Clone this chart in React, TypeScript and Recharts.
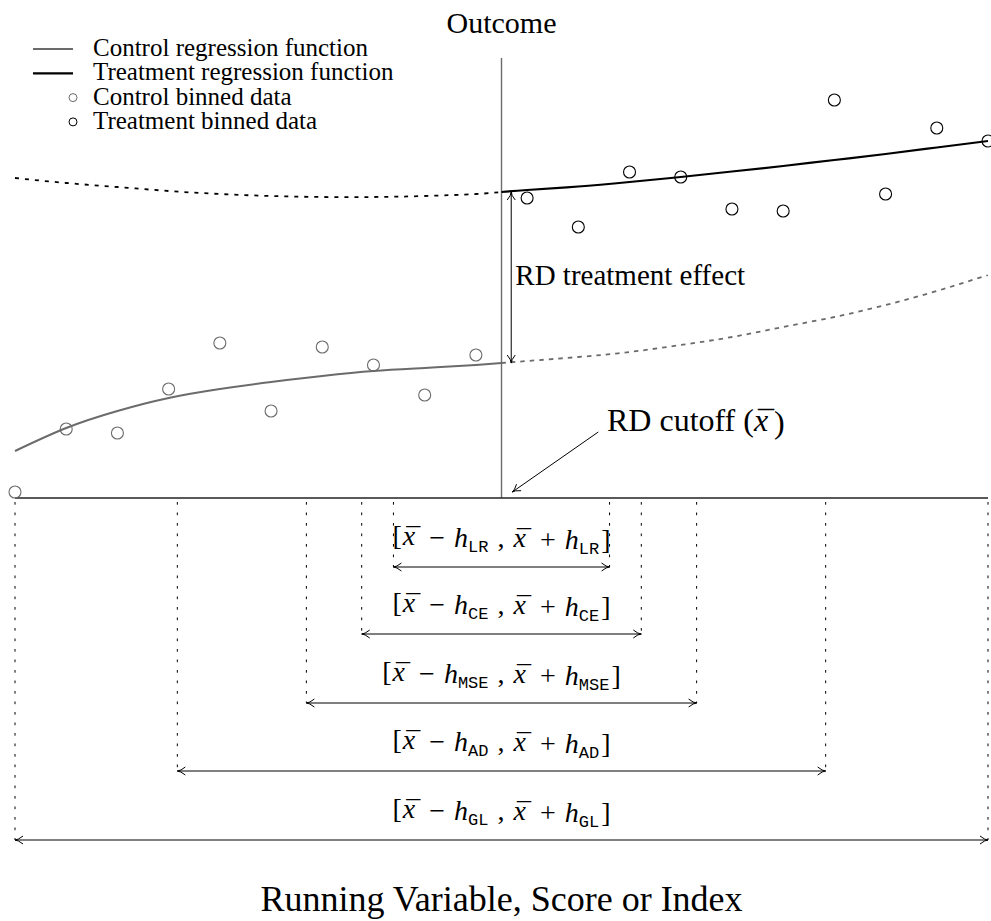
import React from 'react';
import { ComposedChart, Line, Scatter, XAxis, YAxis, ReferenceLine, ReferenceDot } from 'recharts';

const SERIF = '"Liberation Serif", "Times New Roman", serif';
const MONO = '"Liberation Mono", "DejaVu Sans Mono", monospace';
const GRAY = '#6b6b6b';

// running-variable bins (index units), cutoff between bin 9 and bin 10
const cutoff = 9.5;
const controlBinX = [0, 1, 2, 3, 4, 5, 6, 7, 8, 9];
const controlBinned = [0.06, 0.69, 0.65, 1.09, 1.55, 0.87, 1.51, 1.33, 1.03, 1.43];
const treatmentBinX = [10, 11, 12, 13, 14, 15, 16, 17, 18, 19];
const treatmentBinned = [3.0, 2.71, 3.26, 3.21, 2.89, 2.87, 3.98, 3.04, 3.7, 3.57];

// regression functions
const controlFitX = [0, 1, 2, 3, 4, 5, 6, 7, 8, 9, 9.5];
const controlFitY = [0.47, 0.7, 0.87, 1.0, 1.09, 1.16, 1.22, 1.27, 1.3, 1.33, 1.35];
const controlExtX = [9.5, 10, 11, 12, 13, 14, 15, 16, 17, 18, 19];
const controlExtY = [1.35, 1.37, 1.41, 1.46, 1.53, 1.61, 1.71, 1.81, 1.93, 2.07, 2.23];
const treatmentFitX = [9.5, 10, 11, 12, 13, 14, 15, 16, 17, 18, 19];
const treatmentFitY = [3.06, 3.08, 3.115, 3.16, 3.21, 3.265, 3.32, 3.38, 3.44, 3.505, 3.57];
const treatmentExtX = [0, 1, 2, 3, 4, 5, 6, 7, 8, 9, 9.5];
const treatmentExtY = [3.2, 3.15, 3.11, 3.07, 3.04, 3.02, 3.01, 3.01, 3.02, 3.04, 3.06];

// bandwidth intervals around the cutoff
const bandNames = ['LR', 'CE', 'MSE', 'AD', 'GL'];
const bandHalfWidths = [2.11, 2.73, 3.81, 6.33, 9.5];
const bandArrowY = [-0.69, -1.36, -2.05, -2.73, -3.42];
const bandLabelY = [-0.47, -1.14, -1.83, -2.51, -3.2];

const legendItems = [
  { label: 'Control regression function', kind: 'line', color: GRAY },
  { label: 'Treatment regression function', kind: 'line', color: '#000' },
  { label: 'Control binned data', kind: 'dot', color: GRAY },
  { label: 'Treatment binned data', kind: 'dot', color: '#000' },
];

const toPts = (xs: number[], ys: number[]) => xs.map((x, i) => ({ x, y: ys[i] }));
const controlPts = toPts(controlBinX, controlBinned);
const treatmentPts = toPts(treatmentBinX, treatmentBinned);

function headPath(x1: number, y1: number, x2: number, y2: number, len = 8, half = 4) {
  const dx = x2 - x1;
  const dy = y2 - y1;
  const L = Math.hypot(dx, dy) || 1;
  const ux = dx / L;
  const uy = dy / L;
  const bx = x2 - ux * len;
  const by = y2 - uy * len;
  return `M${bx - uy * half},${by + ux * half} Q${x2 - ux * 3},${y2 - uy * 3} ${x2},${y2} Q${x2 - ux * 3},${y2 - uy * 3} ${bx + uy * half},${by - ux * half}`;
}

const makeArrow = (both: boolean, color = '#000') => (p: any) => {
  const { x1, y1, x2, y2 } = p;
  return (
    <g>
      <line x1={x1} y1={y1} x2={x2} y2={y2} stroke={color} strokeWidth={1} />
      <path d={headPath(x1, y1, x2, y2)} fill="none" stroke={color} strokeWidth={1} />
      {both && <path d={headPath(x2, y2, x1, y1)} fill="none" stroke={color} strokeWidth={1} />}
    </g>
  );
};

// italic x with a macron (U+00AF) placed over it
const xBar = (fs: number, dxBefore = 0) => {
  const xw = 0.444 * fs;
  const mw = 0.333 * fs;
  const start = (xw - mw) / 2 + 0.07 * fs;
  const drop = 0.07 * fs;
  return [
    <tspan key="x" dx={dxBefore} fontStyle="italic">x</tspan>,
    <tspan key="m" dx={-(xw - start)} dy={drop}>{'\u00AF'}</tspan>,
    <tspan key="r" dx={xw - start - mw} dy={-drop}>{''}</tspan>,
  ];
};

const BAND_FS = 28;
const SUB_FS = 17;
const OP_GAP = 9;

const bandLabel = (name: string) => (p: any) => {
  const { cx, cy } = p;
  const sub = (k: string) => [
    <tspan key={k + 'h'} dx={OP_GAP} fontStyle="italic">h</tspan>,
    <tspan key={k + 's'} fontFamily={MONO} fontSize={SUB_FS} dy={5}>{name}</tspan>,
  ];
  return (
    <text x={cx} y={cy} textAnchor="middle" fontFamily={SERIF} fontSize={BAND_FS} fill="#000">
      <tspan>[</tspan>
      {xBar(BAND_FS, 1)}
      <tspan dx={OP_GAP}>{'\u2212'}</tspan>
      {sub('a')}
      <tspan dx={9} dy={-5}>,</tspan>
      {xBar(BAND_FS, 9)}
      <tspan dx={OP_GAP}>+</tspan>
      {sub('b')}
      <tspan dx={2} dy={-5}>]</tspan>
    </text>
  );
};

const textShape = (content: React.ReactNode, size: number, anchor: string) => (p: any) => (
  <text x={p.cx} y={p.cy} textAnchor={anchor} fontFamily={SERIF} fontSize={size} fill="#000">
    {content}
  </text>
);

const circleShape = (color: string) => (p: any) => (
  <circle cx={p.cx} cy={p.cy} r={6} fill="none" stroke={color} strokeWidth={1.1} />
);

const LegendBox = () => (
  <svg width={420} height={140} style={{ position: 'absolute', left: 0, top: 0 }}>
    {legendItems.map((it, i) => {
      const base = 56 + i * 24.3;
      const mid = base - 7;
      return (
        <g key={it.label}>
          {it.kind === 'line' ? (
            <line x1={33} x2={73} y1={mid} y2={mid} stroke={it.color} strokeWidth={i === 1 ? 2.2 : 1.8} />
          ) : (
            <circle cx={73} cy={mid} r={4} fill="none" stroke={it.color} strokeWidth={1} />
          )}
          <text x={93} y={base} fontFamily={SERIF} fontSize={25} fill="#000">
            {it.label}
          </text>
        </g>
      );
    })}
  </svg>
);

export default function App() {
  return (
    <div style={{ position: 'absolute', left: 0, top: 0, width: 991, height: 921, background: '#fff' }}>
      <ComposedChart width={991} height={921} margin={{ top: 58, right: 3, bottom: 73, left: 15 }}>
        <XAxis type="number" dataKey="x" domain={[0, 19]} hide />
        <YAxis type="number" dataKey="y" domain={[-3.5, 4.4]} hide />

        {/* axes */}
        <ReferenceLine segment={[{ x: cutoff, y: 0 }, { x: cutoff, y: 4.4 }]} stroke="#6b6b6b" strokeWidth={1.4} />
        <ReferenceLine segment={[{ x: 0, y: 0 }, { x: 19, y: 0 }]} stroke="#222" strokeWidth={1.4} />

        {/* bandwidth intervals */}
        {bandNames.map((n, i) => {
          const lo = cutoff - bandHalfWidths[i];
          const hi = cutoff + bandHalfWidths[i];
          return (
            <React.Fragment key={n}>
              <ReferenceLine segment={[{ x: lo, y: -0.04 }, { x: lo, y: bandArrowY[i] }]} stroke="#000" strokeWidth={1} strokeDasharray="2.7 7.8" />
              <ReferenceLine segment={[{ x: hi, y: -0.04 }, { x: hi, y: bandArrowY[i] }]} stroke="#000" strokeWidth={1} strokeDasharray="2.7 7.8" />
              <ReferenceLine segment={[{ x: lo, y: bandArrowY[i] }, { x: hi, y: bandArrowY[i] }]} shape={makeArrow(true)} />
              <ReferenceDot x={cutoff} y={bandLabelY[i]} r={0} shape={bandLabel(n)} />
            </React.Fragment>
          );
        })}

        {/* regression functions */}
        <Line data={toPts(treatmentExtX, treatmentExtY)} dataKey="y" type="natural" stroke="#000" strokeWidth={1.8} strokeDasharray="4 6" dot={false} isAnimationActive={false} />
        <Line data={toPts(controlExtX, controlExtY)} dataKey="y" type="natural" stroke={GRAY} strokeWidth={1.8} strokeDasharray="4.5 5" dot={false} isAnimationActive={false} />
        <Line data={toPts(controlFitX, controlFitY)} dataKey="y" type="natural" stroke={GRAY} strokeWidth={2} dot={false} isAnimationActive={false} name="Control regression function" />
        <Line data={toPts(treatmentFitX, treatmentFitY)} dataKey="y" type="natural" stroke="#000" strokeWidth={2.2} dot={false} isAnimationActive={false} name="Treatment regression function" />

        {/* binned data */}
        <Scatter data={controlPts} dataKey="y" shape={circleShape(GRAY)} isAnimationActive={false} name="Control binned data" />
        <Scatter data={treatmentPts} dataKey="y" shape={circleShape('#000')} isAnimationActive={false} name="Treatment binned data" />

        {/* RD treatment effect */}
        <ReferenceLine segment={[{ x: 9.69, y: 3.06 }, { x: 9.69, y: 1.35 }]} shape={makeArrow(true)} />
        <ReferenceDot x={9.77} y={2.13} r={0} shape={textShape('RD treatment effect', 29, 'start')} />

        {/* RD cutoff */}
        <ReferenceLine segment={[{ x: 11.39, y: 0.66 }, { x: 9.71, y: 0.06 }]} shape={makeArrow(false)} />
        <ReferenceDot
          x={11.56}
          y={0.67}
          r={0}
          shape={textShape(<><tspan>RD cutoff (</tspan>{xBar(32)}<tspan>)</tspan></>, 32, 'start')}
        />

        {/* titles */}
        <ReferenceDot x={cutoff} y={4.65} r={0} ifOverflow="visible" shape={textShape('Outcome', 30, 'middle')} />
        <ReferenceDot x={cutoff} y={-4.13} r={0} ifOverflow="visible" shape={textShape('Running Variable, Score or Index', 36, 'middle')} />
      </ComposedChart>
      <LegendBox />
    </div>
  );
}
